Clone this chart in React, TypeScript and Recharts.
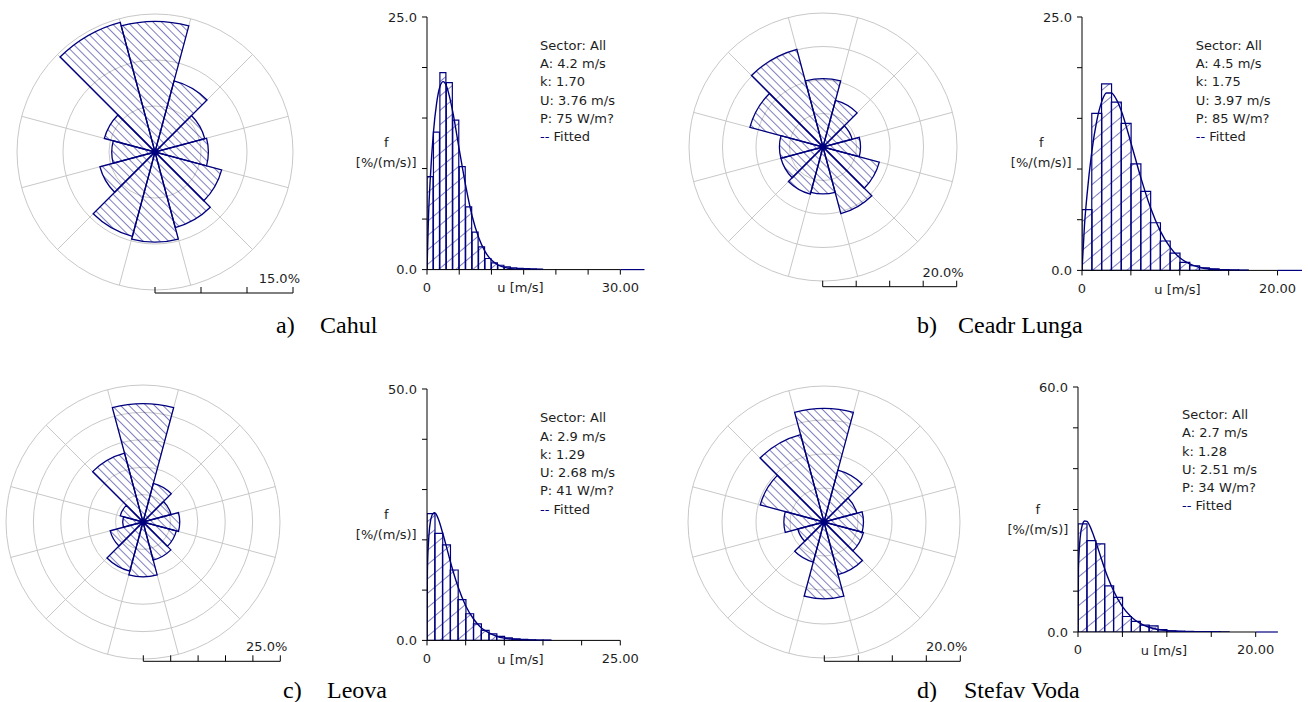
import React from 'react';
import {
  RadialBarChart, RadialBar, PolarGrid, PolarAngleAxis, PolarRadiusAxis,
  ComposedChart, Bar, Line, XAxis, YAxis, ReferenceLine,
} from 'recharts';

// ---------------- data ----------------
const directions = ['N', 'NNE', 'ENE', 'E', 'ESE', 'SSE', 'S', 'SSW', 'WSW', 'W', 'WNW', 'NNW'];

// wind rose frequencies [%] per 30° sector
const roseCahul = [14.2, 8.0, 5.6, 5.8, 7.5, 8.5, 9.8, 9.5, 6.2, 4.7, 5.7, 14.6];
const roseCeadrLunga = [10.2, 7.2, 4.5, 5.6, 8.7, 10.3, 7.0, 7.3, 6.5, 6.5, 11.3, 15.1];
const roseLeova = [21.6, 7.3, 5.3, 6.7, 6.3, 7.2, 10.0, 9.3, 6.2, 3.7, 4.3, 13.0];
const roseStefavVoda = [16.7, 7.9, 5.0, 5.8, 6.0, 8.0, 11.3, 6.1, 4.0, 5.9, 9.7, 13.3];

const ringsCahul = [5, 10, 15];
const ringsCeadrLunga = [5, 10, 15, 20];
const ringsLeova = [5, 10, 15, 20, 25];
const ringsStefavVoda = [5, 10, 15, 20];

// histogram bins of 1 m/s, starting at 0 m/s  [%/(m/s)]
const histCahul = [9.2, 13.6, 19.5, 18.5, 14.8, 10.2, 6.2, 3.7, 2.25, 1.1, 0.66, 0.43, 0.26, 0.17, 0.12, 0.09, 0.07, 0.05];
const histCeadrLunga = [6.0, 15.5, 18.4, 16.6, 14.5, 10.5, 7.8, 4.7, 2.9, 1.7, 0.8, 0.46, 0.26, 0.15, 0.08, 0.05, 0.03];
const histLeova = [25.2, 21.3, 19.0, 14.0, 8.1, 5.3, 3.3, 2.0, 1.3, 0.8, 0.5, 0.3, 0.2, 0.12, 0.08, 0.05];
const histStefavVoda = [26.5, 22.4, 21.6, 11.3, 8.5, 3.8, 2.6, 1.7, 1.5, 0.6, 0.3, 0.2, 0.15, 0.1, 0.08, 0.05, 0.03];

// fitted curve: [u, f]
const fitCahul = [[0, 0], [0.25, 5.6], [0.5, 8.9], [1, 13.6], [1.5, 16.5], [2, 18.1], [2.5, 18.6], [3, 18.2], [3.5, 17.1], [4, 15.6], [5, 11.9], [6, 8.3], [7, 5.3], [8, 3.2], [9, 1.8], [10, 0.94], [11, 0.47], [12, 0.22], [13, 0.1], [14, 0.04], [16, 0.01], [18, 0]];
const fitCeadrLunga = [[0, 0], [0.25, 4.4], [0.5, 7.3], [1, 11.7], [1.5, 14.7], [2, 16.6], [2.5, 17.5], [3, 17.5], [3.5, 16.9], [4, 15.8], [5, 12.6], [6, 9.2], [7, 6.2], [8, 3.9], [9, 2.3], [10, 1.24], [11, 0.64], [12, 0.31], [13, 0.14], [14, 0.06], [15, 0.025], [17, 0]];
const fitLeova = [[0, 0], [0.05, 13.7], [0.25, 20.9], [0.5, 24.1], [0.75, 25.2], [1, 25.4], [1.5, 24.0], [2, 21.5], [2.5, 18.7], [3, 15.8], [3.5, 13.1], [4, 10.7], [5, 6.9], [6, 4.3], [7, 2.5], [8, 1.5], [9, 0.83], [10, 0.46], [11, 0.25], [12, 0.13], [13, 0.07], [14, 0.035], [16, 0]];
const fitStefavVoda = [[0, 0], [0.05, 15.5], [0.25, 23.2], [0.5, 26.3], [0.75, 27.2], [1, 27.1], [1.5, 25.1], [2, 22.1], [2.5, 18.8], [3, 15.5], [3.5, 12.6], [4, 10.1], [5, 6.2], [6, 3.7], [7, 2.1], [8, 1.16], [9, 0.62], [10, 0.33], [11, 0.17], [12, 0.085], [14, 0.02], [16, 0]];

const yTicksCahul = [0, 5, 10, 15, 20, 25];
const yTicksCeadrLunga = [0, 5, 10, 15, 20, 25];
const yTicksLeova = [0, 10, 20, 30, 40, 50];
const yTicksStefavVoda = [0, 10, 20, 30, 40, 50, 60];

const xTicksCahul = [0, 5, 10, 15, 20, 25, 30];
const xTicksCeadrLunga = [0, 5, 10, 15, 20];
const xTicksLeova = [0, 5, 10, 15, 20, 25];
const xTicksStefavVoda = [0, 5, 10, 15, 20];

const statsCahul = ['Sector: All', 'A: 4.2 m/s', 'k: 1.70', 'U: 3.76 m/s', 'P: 75 W/m?'];
const statsCeadrLunga = ['Sector: All', 'A: 4.5 m/s', 'k: 1.75', 'U: 3.97 m/s', 'P: 85 W/m?'];
const statsLeova = ['Sector: All', 'A: 2.9 m/s', 'k: 1.29', 'U: 2.68 m/s', 'P: 41 W/m?'];
const statsStefavVoda = ['Sector: All', 'A: 2.7 m/s', 'k: 1.28', 'U: 2.51 m/s', 'P: 34 W/m?'];

// ---------------- styles ----------------
const NAVY = '#00007f';
const GRID = '#c8c8c8';
const TXT = '#1e1e1e';
const SANS = '"DejaVu Sans", Verdana, sans-serif';
const SERIF = '"Liberation Serif", "Times New Roman", serif';
const FS = 13;

// ---------------- components ----------------
type RoseProps = { id: string; values: number[]; rings: number[]; cx: number; cy: number; R: number; barDy: number };

function WindRose({ id, values, rings, cx, cy, R, barDy }: RoseProps) {
  const max = rings[rings.length - 1];
  const size = 2 * R + 6;
  const rows = directions.map((d, i) => ({ dir: d, v: values[i] }));
  const step = 360 / directions.length;
  const boundaries = directions.map((_, i) => 90 - (step / 2 + step * i));
  const barY = cy + barDy;
  // first sector (N) spans compass -15..15, sectors go clockwise
  const start = 90 - step / 2;
  return (
    <>
      <div style={{ position: 'absolute', left: cx - size / 2, top: cy - size / 2 }}>
        <RadialBarChart
          width={size}
          height={size}
          data={rows}
          layout="centric"
          cx="50%"
          cy="50%"
          innerRadius={0}
          outerRadius={R}
          startAngle={start}
          endAngle={start - 360}
          barCategoryGap={0}
          barGap={0}
          margin={{ top: 0, right: 0, bottom: 0, left: 0 }}
        >
          <defs>
            <pattern id={`rose-${id}`} patternUnits="userSpaceOnUse" width={6} height={6} patternTransform="rotate(-45)">
              <line x1={0} y1={0} x2={0} y2={6} stroke={NAVY} strokeWidth={1} />
            </pattern>
          </defs>
          <PolarGrid gridType="circle" polarAngles={boundaries} stroke={GRID} strokeWidth={1} />
          <PolarAngleAxis type="category" dataKey="dir" tick={false} axisLine={false} tickLine={false} />
          <PolarRadiusAxis type="number" domain={[0, max]} ticks={[0, ...rings]} tickCount={rings.length + 1} tick={false} axisLine={false} tickLine={false} />
          <RadialBar dataKey="v" fill={`url(#rose-${id})`} stroke={NAVY} strokeWidth={1.3} isAnimationActive={false} />
        </RadialBarChart>
      </div>
      <svg style={{ position: 'absolute', left: 0, top: 0, overflow: 'visible', pointerEvents: 'none' }} width={1} height={1}>
        <circle cx={cx} cy={cy} r={3} fill={NAVY} />
        <line x1={cx} y1={barY} x2={cx + R} y2={barY} stroke="#000" strokeWidth={1} />
        {[0, ...rings].map((t) => (
          <line key={t} x1={cx + (t / max) * R} y1={barY} x2={cx + (t / max) * R} y2={barY - 6} stroke="#000" strokeWidth={1} />
        ))}
        <text x={cx + R + 7} y={barY - 10} textAnchor="end" fontFamily={SANS} fontSize={FS} fill={TXT}>
          {`${max.toFixed(1)}%`}
        </text>
      </svg>
    </>
  );
}

type HistProps = {
  id: string; bins: number[]; fit: number[][]; yTicks: number[]; xTicks: number[]; xMax: number;
  plotLeft: number; plotTop: number; plotRight: number; plotBottom: number;
  stats: string[]; statsX: number; statsY: number; yLabelY: number; xLabelX: number;
};

function Histogram(p: HistProps) {
  const ML = 70, MR = 30, MT = 10, XH = 30;
  const W = p.plotRight - p.plotLeft + ML + MR;
  const H = p.plotBottom - p.plotTop + MT + XH;
  const binRows = p.bins.map((f, i) => ({ u: i + 0.5, f }));
  const fitRows = p.fit.map(([u, f]) => ({ u, f }));
  const yMax = p.yTicks[p.yTicks.length - 1];
  const xLast = p.xTicks[p.xTicks.length - 1];
  const tickStyle = { fill: TXT, fontSize: FS, fontFamily: SANS };
  const pid = `hist-${p.id}`;
  return (
    <>
      <div style={{ position: 'absolute', left: p.plotLeft - ML, top: p.plotTop - MT }}>
        <ComposedChart width={W} height={H} data={binRows} margin={{ top: MT, right: MR, bottom: 0, left: 0 }} barCategoryGap={0} barGap={0}>
          <defs>
            <pattern id={pid} patternUnits="userSpaceOnUse" width={11} height={11} patternTransform="rotate(50)">
              <line x1={0} y1={0} x2={0} y2={11} stroke={NAVY} strokeWidth={1} />
            </pattern>
          </defs>
          <XAxis
            xAxisId="u" type="number" dataKey="u" domain={[0, p.xMax]} allowDataOverflow
            ticks={p.xTicks} interval={0} height={XH} axisLine={false}
            tickLine={{ stroke: '#000' }} tickSize={5} tickMargin={8} tick={tickStyle}
            tickFormatter={(v: number) => (v === 0 ? '0' : v === xLast ? v.toFixed(2) : '')}
          />
          <XAxis xAxisId="bins" type="number" dataKey="u" domain={[0, p.xMax]} allowDataOverflow hide height={0} />
          <YAxis
            type="number" domain={[0, yMax]} allowDataOverflow ticks={p.yTicks} interval={0} width={ML}
            axisLine={{ stroke: '#000' }} tickLine={{ stroke: '#000' }} tickSize={5} tickMargin={5} tick={tickStyle}
            tickFormatter={(v: number) => (v === 0 || v === yMax ? v.toFixed(1) : '')}
          />
          <Bar xAxisId="bins" dataKey="f" fill={`url(#${pid})`} stroke={NAVY} strokeWidth={1.2} isAnimationActive={false} />
          <ReferenceLine xAxisId="u" segment={[{ x: 0, y: 0 }, { x: xLast, y: 0 }]} stroke="#000" strokeWidth={1} />
          <ReferenceLine xAxisId="u" segment={[{ x: xLast, y: 0 }, { x: p.xMax, y: 0 }]} stroke={NAVY} strokeWidth={1.2} />
          <Line xAxisId="u" data={fitRows} dataKey="f" type="monotone" stroke={NAVY} strokeWidth={1.4} dot={false} activeDot={false} isAnimationActive={false} />
        </ComposedChart>
      </div>
      <div style={{ position: 'absolute', left: p.statsX, top: p.statsY - 9, fontFamily: SANS, fontSize: FS, color: TXT, lineHeight: '18.3px', whiteSpace: 'nowrap' }}>
        {p.stats.map((s) => (<div key={s}>{s}</div>))}
        <div><span style={{ color: NAVY }}>--</span> Fitted</div>
      </div>
      <div style={{ position: 'absolute', left: p.plotLeft - 10, top: p.yLabelY, transform: 'translate(-100%, -50%)', fontFamily: SANS, fontSize: FS, color: TXT, lineHeight: '20px', textAlign: 'center', whiteSpace: 'nowrap' }}>
        <div>f</div>
        <div>[%/(m/s)]</div>
      </div>
      <div style={{ position: 'absolute', left: p.xLabelX, top: p.plotBottom + 18, transform: 'translate(-50%, -50%)', fontFamily: SANS, fontSize: FS, color: TXT, whiteSpace: 'nowrap' }}>
        u [m/s]
      </div>
    </>
  );
}

function Caption({ x1, x2, y, letter, name }: { x1: number; x2: number; y: number; letter: string; name: string }) {
  const st: React.CSSProperties = { position: 'absolute', top: y, transform: 'translateY(-50%)', fontFamily: SERIF, fontSize: 24, color: '#000', whiteSpace: 'nowrap', lineHeight: 1 };
  return (
    <>
      <div style={{ ...st, left: x1 }}>{letter}</div>
      <div style={{ ...st, left: x2 }}>{name}</div>
    </>
  );
}

export default function App() {
  return (
    <div style={{ position: 'absolute', left: 0, top: 0, width: 1308, height: 702, background: '#fff', overflow: 'hidden' }}>
      <WindRose id="a" values={roseCahul} rings={ringsCahul} cx={155} cy={152} R={138} barDy={141} />
      <WindRose id="b" values={roseCeadrLunga} rings={ringsCeadrLunga} cx={822.7} cy={146.7} R={134} barDy={140} />
      <WindRose id="c" values={roseLeova} rings={ringsLeova} cx={143.3} cy={522.3} R={137} barDy={139} />
      <WindRose id="d" values={roseStefavVoda} rings={ringsStefavVoda} cx={824.3} cy={522.3} R={136} barDy={139} />

      <Histogram id="a" bins={histCahul} fit={fitCahul} yTicks={yTicksCahul} xTicks={xTicksCahul} xMax={33.75}
        plotLeft={426.7} plotTop={16.7} plotRight={644.2} plotBottom={269.3}
        stats={statsCahul} statsX={540} statsY={45.7} yLabelY={153} xLabelX={520.5} />
      <Histogram id="b" bins={histCeadrLunga} fit={fitCeadrLunga} yTicks={yTicksCeadrLunga} xTicks={xTicksCeadrLunga} xMax={22.5}
        plotLeft={1081.7} plotTop={17.3} plotRight={1301.7} plotBottom={270.7}
        stats={statsCeadrLunga} statsX={1195.7} statsY={45.7} yLabelY={153} xLabelX={1177.5} />
      <Histogram id="c" bins={histLeova} fit={fitLeova} yTicks={yTicksLeova} xTicks={xTicksLeova} xMax={25}
        plotLeft={426.7} plotTop={389.3} plotRight={620} plotBottom={640.7}
        stats={statsLeova} statsX={540} statsY={418.3} yLabelY={525} xLabelX={520.5} />
      <Histogram id="d" bins={histStefavVoda} fit={fitStefavVoda} yTicks={yTicksStefavVoda} xTicks={xTicksStefavVoda} xMax={22.5}
        plotLeft={1078.3} plotTop={387.3} plotRight={1278.2} plotBottom={632.3}
        stats={statsStefavVoda} statsX={1182} statsY={415} yLabelY={520} xLabelX={1164} />

      <Caption x1={276} x2={320} y={325} letter="a)" name="Cahul" />
      <Caption x1={917} x2={958} y={325} letter="b)" name="Ceadr Lunga" />
      <Caption x1={283} x2={327} y={690} letter="c)" name="Leova" />
      <Caption x1={917} x2={964} y={690} letter="d)" name="Stefav Voda" />
    </div>
  );
}
